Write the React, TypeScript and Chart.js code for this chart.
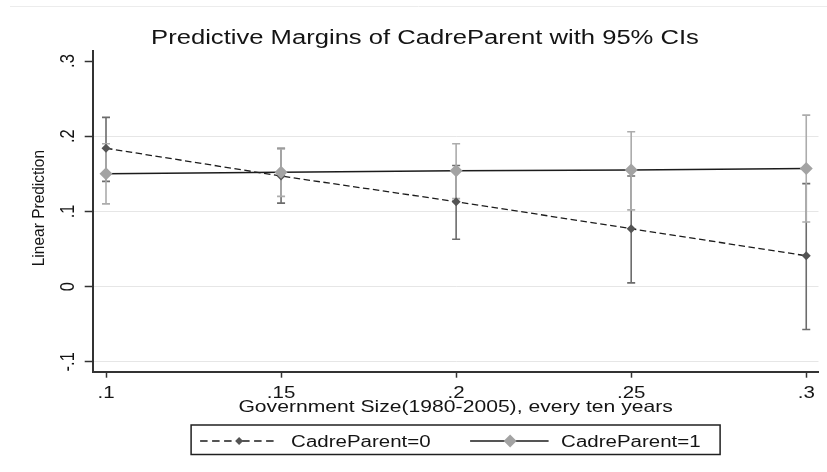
import { useEffect, useRef } from "react";
import { Chart, registerables } from "chart.js";

Chart.register(...registerables);

// Government size at each evaluation point
const GOV_SIZE = [0.1, 0.15, 0.2, 0.25, 0.3];
const X_TICKS = [0.1, 0.15, 0.2, 0.25, 0.3];
const X_TICK_LABELS = [".1", ".15", ".2", ".25", ".3"];
const Y_TICKS = [-0.1, 0, 0.1, 0.2, 0.3];
const Y_TICK_LABELS = ["-.1", "0", ".1", ".2", ".3"];

// CadreParent = 0: margins and 95% confidence limits
const CADRE0_MARGIN = [0.184, 0.147, 0.113, 0.077, 0.041];
const CADRE0_LOWER = [0.14, 0.111, 0.063, 0.005, -0.057];
const CADRE0_UPPER = [0.225, 0.184, 0.161, 0.147, 0.137];

// CadreParent = 1: margins and 95% confidence limits
const CADRE1_MARGIN = [0.15, 0.152, 0.154, 0.155, 0.157];
const CADRE1_LOWER = [0.11, 0.12, 0.117, 0.102, 0.086];
const CADRE1_UPPER = [0.19, 0.183, 0.19, 0.206, 0.228];

const TITLE = "Predictive Margins of CadreParent with 95% CIs";
const X_TITLE = "Government Size(1980-2005), every ten years";
const Y_TITLE = "Linear Prediction";
const LEGEND_LABELS = ["CadreParent=0", "CadreParent=1"];

const FONT = '"Liberation Sans", Arial, sans-serif';
const TEXT_COLOR = "#141414";
const WIDE = 1.28; // horizontal text stretch
const AXIS_COLOR = "#333333";
const GRID_COLOR = "#e6e6e6";
const DARK_MARK = "#545454";
const DARK_CI = "#6c6c6c";
const LIGHT_MARK = "#a3a3a3";
const LIGHT_CI = "#acacac";
const LINE_COLOR = "#1c1c1c";

type TextOpts = { align?: CanvasTextAlign; sx?: number; rotate?: boolean };

function drawText(
  ctx: CanvasRenderingContext2D,
  str: string,
  x: number,
  y: number,
  size: number,
  opts: TextOpts = {}
) {
  ctx.save();
  ctx.translate(x, y);
  ctx.scale(opts.sx ?? WIDE, 1);
  if (opts.rotate) ctx.rotate(-Math.PI / 2);
  ctx.font = `${size}px ${FONT}`;
  ctx.fillStyle = TEXT_COLOR;
  ctx.textAlign = opts.align ?? "center";
  ctx.textBaseline = "alphabetic";
  ctx.fillText(str, 0, 0);
  ctx.restore();
}

function drawDiamond(ctx: CanvasRenderingContext2D, x: number, y: number, r: number, color: string) {
  ctx.save();
  ctx.beginPath();
  ctx.moveTo(x, y - r);
  ctx.lineTo(x + r, y);
  ctx.lineTo(x, y + r);
  ctx.lineTo(x - r, y);
  ctx.closePath();
  ctx.fillStyle = color;
  ctx.fill();
  ctx.restore();
}

// Confidence interval whiskers, drawn beneath the lines and markers
const ciPlugin = {
  id: "ciBars",
  beforeDatasetsDraw(chart: Chart) {
    const ctx = chart.ctx;
    const xs = chart.scales.x;
    const ys = chart.scales.y;
    const groups = [
      { lo: CADRE0_LOWER, hi: CADRE0_UPPER, color: DARK_CI },
      { lo: CADRE1_LOWER, hi: CADRE1_UPPER, color: LIGHT_CI },
    ];
    ctx.save();
    ctx.lineWidth = 1.6;
    for (const g of groups) {
      ctx.strokeStyle = g.color;
      GOV_SIZE.forEach((gx, i) => {
        const px = xs.getPixelForValue(gx);
        const yl = ys.getPixelForValue(g.lo[i]);
        const yu = ys.getPixelForValue(g.hi[i]);
        ctx.beginPath();
        ctx.moveTo(px, yl);
        ctx.lineTo(px, yu);
        ctx.moveTo(px - 4, yl);
        ctx.lineTo(px + 4, yl);
        ctx.moveTo(px - 4, yu);
        ctx.lineTo(px + 4, yu);
        ctx.stroke();
      });
    }
    ctx.restore();
  },
};

// Title, axis labels, axis titles and legend
const textPlugin = {
  id: "stataText",
  beforeDraw(chart: Chart) {
    const ctx = chart.ctx;
    ctx.save();
    ctx.strokeStyle = "#ececec";
    ctx.lineWidth = 1;
    ctx.beginPath();
    ctx.moveTo(10, 6.5);
    ctx.lineTo(chart.width, 6.5);
    ctx.stroke();
    ctx.restore();
  },
  afterDraw(chart: Chart) {
    const ctx = chart.ctx;
    const area = chart.chartArea;
    const xs = chart.scales.x;
    const ys = chart.scales.y;
    const midX = (area.left + area.right) / 2;

    drawText(ctx, TITLE, 425, 44, 20);

    X_TICKS.forEach((v, i) => {
      drawText(ctx, X_TICK_LABELS[i], xs.getPixelForValue(v), 398, 16);
    });
    Y_TICKS.forEach((v, i) => {
      drawText(ctx, Y_TICK_LABELS[i], area.left - 19, ys.getPixelForValue(v), 16.5, { rotate: true });
    });

    drawText(ctx, X_TITLE, midX, 412, 16.5);
    drawText(ctx, Y_TITLE, 44, (area.top + area.bottom) / 2 - 3.5, 15.5, { rotate: true, sx: 1.08 });

    // legend box
    const boxW = 529;
    const boxL = midX - boxW / 2;
    const boxT = 425;
    const boxH = 29.5;
    const rowY = boxT + 16;
    ctx.save();
    ctx.strokeStyle = "#202020";
    ctx.lineWidth = 1.5;
    ctx.strokeRect(boxL, boxT, boxW, boxH);

    ctx.strokeStyle = LINE_COLOR;
    ctx.lineWidth = 1.3;
    ctx.setLineDash([7.5, 4.5]);
    ctx.beginPath();
    ctx.moveTo(boxL + 9, rowY);
    ctx.lineTo(boxL + 45, rowY);
    ctx.moveTo(boxL + 51, rowY);
    ctx.lineTo(boxL + 87, rowY);
    ctx.stroke();
    ctx.setLineDash([]);
    drawDiamond(ctx, boxL + 48, rowY, 4, DARK_MARK);

    ctx.lineWidth = 1.5;
    ctx.beginPath();
    ctx.moveTo(boxL + 279, rowY);
    ctx.lineTo(boxL + 357.5, rowY);
    ctx.stroke();
    drawDiamond(ctx, boxL + 319, rowY, 6.5, LIGHT_MARK);
    ctx.restore();

    drawText(ctx, LEGEND_LABELS[0], boxL + 100, 446.5, 16, { align: "left" });
    drawText(ctx, LEGEND_LABELS[1], boxL + 370, 446.5, 16, { align: "left" });
  },
};

export default function App() {
  const canvasRef = useRef<HTMLCanvasElement | null>(null);

  useEffect(() => {
    if (!canvasRef.current) return;
    const chart = new Chart(canvasRef.current, {
      type: "line",
      data: {
        datasets: [
          {
            label: LEGEND_LABELS[0],
            data: GOV_SIZE.map((x, i) => ({ x, y: CADRE0_MARGIN[i] })),
            borderColor: LINE_COLOR,
            borderWidth: 1.3,
            borderDash: [6.5, 3.5],
            pointStyle: "rectRot",
            pointRadius: 4.5,
            pointBorderWidth: 0,
            pointBackgroundColor: DARK_MARK,
            pointBorderColor: DARK_MARK,
            order: 2,
          },
          {
            label: LEGEND_LABELS[1],
            data: GOV_SIZE.map((x, i) => ({ x, y: CADRE1_MARGIN[i] })),
            borderColor: LINE_COLOR,
            borderWidth: 1.5,
            pointStyle: "rectRot",
            pointRadius: 6.5,
            pointBorderWidth: 0,
            pointBackgroundColor: LIGHT_MARK,
            pointBorderColor: LIGHT_MARK,
            order: 1,
          },
        ],
      },
      options: {
        animation: false,
        responsive: true,
        maintainAspectRatio: false,
        layout: { padding: { top: 51, right: 8.5, left: 84.7, bottom: 94.3 } },
        plugins: {
          legend: { display: false },
          title: { display: false },
          tooltip: { enabled: false },
        },
        scales: {
          x: {
            type: "linear",
            min: 0.0962,
            max: 0.3035,
            afterBuildTicks: (s: any) => {
              s.ticks = X_TICKS.map((value) => ({ value }));
            },
            ticks: { display: false },
            grid: {
              drawOnChartArea: false,
              drawTicks: true,
              tickLength: 5.5,
              tickColor: AXIS_COLOR,
              tickWidth: 1.5,
            },
            border: { display: true, color: AXIS_COLOR, width: 2 },
          },
          y: {
            type: "linear",
            min: -0.1138,
            max: 0.3133,
            afterBuildTicks: (s: any) => {
              s.ticks = Y_TICKS.map((value) => ({ value }));
            },
            ticks: { display: false },
            grid: {
              color: (c: any) => (c.tick && Math.abs(c.tick.value - 0.3) < 1e-9 ? "rgba(0,0,0,0)" : GRID_COLOR),
              lineWidth: 1,
              drawTicks: true,
              tickLength: 8,
              tickColor: AXIS_COLOR,
              tickWidth: 1.5,
            },
            border: { display: true, color: AXIS_COLOR, width: 2 },
          },
        },
      },
      plugins: [ciPlugin, textPlugin],
    });
    return () => chart.destroy();
  }, []);

  return (
    <div style={{ position: "fixed", left: 0, top: 0, width: 827, height: 472, background: "#ffffff" }}>
      <canvas ref={canvasRef} />
    </div>
  );
}
